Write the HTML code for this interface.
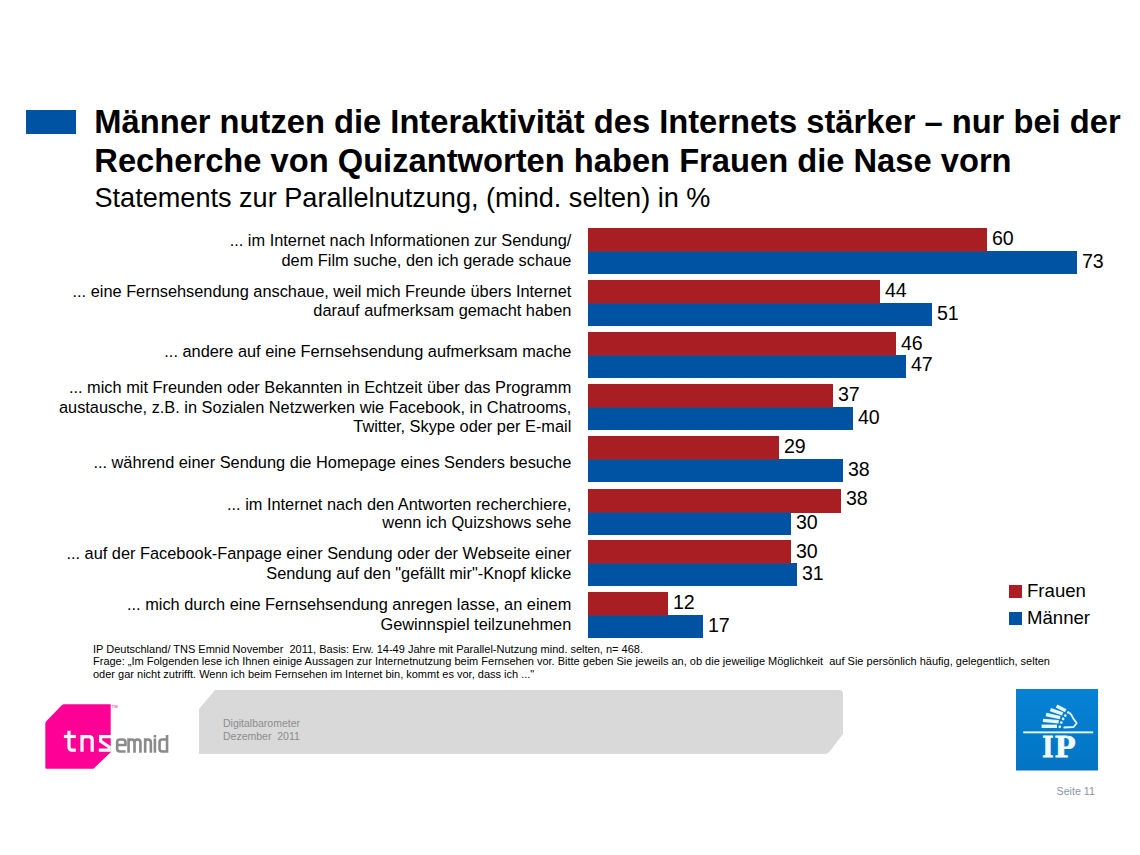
<!DOCTYPE html>
<html><head><meta charset="utf-8"><style>
html,body{margin:0;padding:0;background:#fff;}
body{width:1140px;height:855px;position:relative;overflow:hidden;font-family:"Liberation Sans",sans-serif;color:#000;}
.t{position:absolute;white-space:pre;line-height:1;}
.b{position:absolute;}
</style></head><body>
<div class="b" style="left:26px;top:110px;width:50px;height:24px;background:#0052a3"></div>
<div class="t" style="left:94.3px;top:105.92px;font-size:32.7px;font-weight:bold">Männer nutzen die Interaktivität des Internets stärker – nur bei der</div>
<div class="t" style="left:94.3px;top:144.92px;font-size:32.7px;font-weight:bold">Recherche von Quizantworten haben Frauen die Nase vorn</div>
<div class="t" style="left:94.5px;top:183.56px;font-size:27.1px;">Statements zur Parallelnutzung, (mind. selten) in %</div>
<div class="t" style="right:568.7px;top:232.16px;font-size:16.35px;text-align:right">... im Internet nach Informationen zur Sendung/</div>
<div class="t" style="right:568.7px;top:251.86px;font-size:16.35px;text-align:right">dem Film suche, den ich gerade schaue</div>
<div class="t" style="right:568.7px;top:282.66px;font-size:16.35px;text-align:right">... eine Fernsehsendung anschaue, weil mich Freunde übers Internet</div>
<div class="t" style="right:568.7px;top:302.16px;font-size:16.35px;text-align:right">darauf aufmerksam gemacht haben</div>
<div class="t" style="right:568.7px;top:342.86px;font-size:16.35px;text-align:right">... andere auf eine Fernsehsendung aufmerksam mache</div>
<div class="t" style="right:568.7px;top:379.36px;font-size:16.35px;text-align:right">... mich mit Freunden oder Bekannten in Echtzeit über das Programm</div>
<div class="t" style="right:568.7px;top:398.66px;font-size:16.35px;text-align:right">austausche, z.B. in Sozialen Netzwerken wie Facebook, in Chatrooms,</div>
<div class="t" style="right:568.7px;top:417.76px;font-size:16.35px;text-align:right">Twitter, Skype oder per E-mail</div>
<div class="t" style="right:568.7px;top:453.76px;font-size:16.35px;text-align:right">... während einer Sendung die Homepage eines Senders besuche</div>
<div class="t" style="right:568.7px;top:495.66px;font-size:16.35px;text-align:right">... im Internet nach den Antworten recherchiere,</div>
<div class="t" style="right:568.7px;top:513.66px;font-size:16.35px;text-align:right">wenn ich Quizshows sehe</div>
<div class="t" style="right:568.7px;top:545.46px;font-size:16.35px;text-align:right">... auf der Facebook-Fanpage einer Sendung oder der Webseite einer</div>
<div class="t" style="right:568.7px;top:564.66px;font-size:16.35px;text-align:right">Sendung auf den "gefällt mir"-Knopf klicke</div>
<div class="t" style="right:568.7px;top:596.16px;font-size:16.35px;text-align:right">... mich durch eine Fernsehsendung anregen lasse, an einem</div>
<div class="t" style="right:568.7px;top:615.66px;font-size:16.35px;text-align:right">Gewinnspiel teilzunehmen</div>
<div class="b" style="left:588px;top:228px;width:399px;height:23px;background:#a81e22"></div>
<div class="b" style="left:588px;top:251px;width:399px;height:1px;background:#5a3868"></div>
<div class="b" style="left:588px;top:252px;width:489px;height:22px;background:#0052a3"></div>
<div class="b" style="left:987px;top:251px;width:90px;height:1px;background:#0052a3"></div>
<div class="t" style="left:991.9px;top:229.21px;font-size:19.6px;">60</div>
<div class="t" style="left:1081.9px;top:251.91px;font-size:19.6px;">73</div>
<div class="b" style="left:588px;top:280px;width:292px;height:23px;background:#a81e22"></div>
<div class="b" style="left:588px;top:303px;width:292px;height:1px;background:#5a3868"></div>
<div class="b" style="left:588px;top:304px;width:344px;height:22px;background:#0052a3"></div>
<div class="b" style="left:880px;top:303px;width:52px;height:1px;background:#0052a3"></div>
<div class="t" style="left:884.9px;top:281.11px;font-size:19.6px;">44</div>
<div class="t" style="left:936.9px;top:303.91px;font-size:19.6px;">51</div>
<div class="b" style="left:588px;top:332px;width:308px;height:23px;background:#a81e22"></div>
<div class="b" style="left:588px;top:355px;width:308px;height:1px;background:#5a3868"></div>
<div class="b" style="left:588px;top:356px;width:318px;height:22px;background:#0052a3"></div>
<div class="b" style="left:896px;top:355px;width:10px;height:1px;background:#0052a3"></div>
<div class="t" style="left:900.9px;top:333.91px;font-size:19.6px;">46</div>
<div class="t" style="left:910.9px;top:354.81px;font-size:19.6px;">47</div>
<div class="b" style="left:588px;top:384px;width:245px;height:23px;background:#a81e22"></div>
<div class="b" style="left:588px;top:407px;width:245px;height:1px;background:#5a3868"></div>
<div class="b" style="left:588px;top:408px;width:265px;height:22px;background:#0052a3"></div>
<div class="b" style="left:833px;top:407px;width:20px;height:1px;background:#0052a3"></div>
<div class="t" style="left:837.9px;top:385.31px;font-size:19.6px;">37</div>
<div class="t" style="left:857.9px;top:408.11px;font-size:19.6px;">40</div>
<div class="b" style="left:588px;top:436px;width:191px;height:23px;background:#a81e22"></div>
<div class="b" style="left:588px;top:459px;width:191px;height:1px;background:#5a3868"></div>
<div class="b" style="left:588px;top:460px;width:255px;height:22px;background:#0052a3"></div>
<div class="b" style="left:779px;top:459px;width:64px;height:1px;background:#0052a3"></div>
<div class="t" style="left:783.9px;top:437.11px;font-size:19.6px;">29</div>
<div class="t" style="left:847.9px;top:460.31px;font-size:19.6px;">38</div>
<div class="b" style="left:588px;top:489px;width:253px;height:23px;background:#a81e22"></div>
<div class="b" style="left:588px;top:512px;width:203px;height:1px;background:#5a3868"></div>
<div class="b" style="left:588px;top:513px;width:203px;height:22px;background:#0052a3"></div>
<div class="b" style="left:791px;top:512px;width:50px;height:1px;background:#a81e22"></div>
<div class="t" style="left:845.9px;top:489.11px;font-size:19.6px;">38</div>
<div class="t" style="left:795.9px;top:513.31px;font-size:19.6px;">30</div>
<div class="b" style="left:588px;top:540px;width:203px;height:23px;background:#a81e22"></div>
<div class="b" style="left:588px;top:563px;width:203px;height:1px;background:#5a3868"></div>
<div class="b" style="left:588px;top:564px;width:209px;height:22px;background:#0052a3"></div>
<div class="b" style="left:791px;top:563px;width:6px;height:1px;background:#0052a3"></div>
<div class="t" style="left:795.9px;top:542.11px;font-size:19.6px;">30</div>
<div class="t" style="left:801.9px;top:564.31px;font-size:19.6px;">31</div>
<div class="b" style="left:588px;top:592px;width:80px;height:23px;background:#a81e22"></div>
<div class="b" style="left:588px;top:615px;width:80px;height:1px;background:#5a3868"></div>
<div class="b" style="left:588px;top:616px;width:115px;height:22px;background:#0052a3"></div>
<div class="b" style="left:668px;top:615px;width:35px;height:1px;background:#0052a3"></div>
<div class="t" style="left:672.9px;top:593.41px;font-size:19.6px;">12</div>
<div class="t" style="left:707.9px;top:615.51px;font-size:19.6px;">17</div>
<div class="b" style="left:1009px;top:585px;width:13px;height:13px;background:#ae1d23"></div>
<div class="b" style="left:1009px;top:612px;width:13px;height:13px;background:#0052a3"></div>
<div class="t" style="left:1027px;top:582.06px;font-size:18.6px;">Frauen</div>
<div class="t" style="left:1027px;top:608.86px;font-size:18.6px;">Männer</div>
<div class="t" style="left:93px;top:643.69px;font-size:11px;">IP Deutschland/ TNS Emnid November  2011, Basis: Erw. 14-49 Jahre mit Parallel-Nutzung mind. selten, n= 468.</div>
<div class="t" style="left:93px;top:656.49px;font-size:11px;">Frage: „Im Folgenden lese ich Ihnen einige Aussagen zur Internetnutzung beim Fernsehen vor. Bitte geben Sie jeweils an, ob die jeweilige Möglichkeit  auf Sie persönlich häufig, gelegentlich, selten</div>
<div class="t" style="left:93px;top:669.29px;font-size:11px;">oder gar nicht zutrifft. Wenn ich beim Fernsehen im Internet bin, kommt es vor, dass ich ..."</div>
<svg class="b" style="left:0;top:0" width="1140" height="855" viewBox="0 0 1140 855">
<path d="M215,690 L839,690 Q843,690 843,694 L843,734 L830,751 Q828,754 824,754 L199,754 L199,709 Z" fill="#d9d9d9"/>
</svg>
<div class="t" style="left:223px;top:717.81px;font-size:10.5px;color:#8c8c8c">Digitalbarometer</div>
<div class="t" style="left:223px;top:731.01px;font-size:10.5px;color:#8c8c8c">Dezember  2011</div>
<svg class="b" style="left:0;top:0" width="1140" height="855" viewBox="0 0 1140 855">
<path d="M64,704.2 L110.7,704.2 L110.7,752.2 L93.5,768.7 L46.5,768.7 Q45.3,768.7 45.3,767.5 L45.3,723.5 Q45.3,722 46.5,721 L62,705 Q63,704.2 64,704.2 Z" fill="#ff0096"/>
<g fill="none" stroke="#fff" stroke-width="3.2" stroke-linejoin="miter" stroke-linecap="butt">
<path d="M69,730.7 V747 Q69,750.2 72.2,750.2 H75.8"/>
<path d="M63.9,736.5 H75.8"/>
<path d="M82,751.8 V735.1 M82,740 Q82,736.7 85.3,736.7 H88.9 Q92.2,736.7 92.2,740 V751.8"/>
<path d="M111,736.6 H100.6 V741.2 L109.2,747 V750.2 H98.8"/>
</g>
<g fill="none" stroke="#8a8a8a" stroke-width="2.6">
<path d="M117.15,745 H125.45 V742.2 Q125.45,739.45 122.7,739.45 H119.9 Q117.15,739.45 117.15,742.2 V748.8 Q117.15,751.55 119.9,751.55 H125.6"/>
<path d="M128.55,752.7 V738.3 M128.55,742 Q128.55,739.45 131.5,739.45 Q134.5,739.45 134.5,742.4 V752.7 M134.5,742.4 Q134.5,739.45 137.5,739.45 Q140.45,739.45 140.45,742.4 V752.7"/>
<path d="M145.15,752.7 V738.3 M145.15,742.2 Q145.15,739.45 148,739.45 Q150.85,739.45 150.85,742.4 V752.7"/>
<path d="M154.9,735.1 V737.6 M154.9,738.6 V752.7"/>
<path d="M167.05,735.1 V752.7 M167.05,739.45 H162.3 Q159.55,739.45 159.55,742.2 V748.8 Q159.55,751.55 162.3,751.55 H167.05"/>
</g>
<text x="111.6" y="707.6" font-family="Liberation Sans" font-size="3.2" fill="#ff0096" textLength="6" lengthAdjust="spacingAndGlyphs">TM</text>
</svg>
<svg class="b" style="left:0;top:0" width="1140" height="855" viewBox="0 0 1140 855">
<defs><linearGradient id="ipg" x1="0" y1="0" x2="0" y2="1"><stop offset="0" stop-color="#0583d6"/><stop offset="1" stop-color="#0474c2"/></linearGradient></defs>
<rect x="1016" y="689" width="82" height="81.5" fill="url(#ipg)"/>
<rect x="1023.2" y="731.4" width="70" height="1.9" fill="#e6f6ff"/>
<g stroke="#e6f6ff" stroke-width="3.4" fill="none" stroke-linecap="butt">
<path d="M1041.6,726.3 L1057,726.3"/>
<path d="M1042.9,720.4 L1058.7,721.7"/>
<path d="M1046,714.5 L1060.2,717.6"/>
<path d="M1050.4,709.7 L1062.6,713.9"/>
<path d="M1056.5,706 L1065.7,710.7"/>
</g>
<g fill="#e6f6ff">
<circle cx="1068.3" cy="712.5" r="1.35"/><circle cx="1065.3" cy="715.6" r="1.35"/><circle cx="1063.1" cy="718.9" r="1.35"/><circle cx="1061.3" cy="722.6" r="1.35"/><circle cx="1059.8" cy="726.8" r="1.35"/>
</g>
<path d="M1063.5,727.5 L1073.6,727 L1076.7,723.2 L1073.2,718.4 L1071.4,714.9 L1069.5,713" stroke="#e6f6ff" stroke-width="1.8" fill="none" stroke-linejoin="round"/>
<g font-family="Liberation Serif" font-weight="bold" font-size="31" fill="#f2fbff" stroke="#f2fbff" stroke-width="0.8">
<text transform="translate(1042.33,756.6) scale(0.93,1)">I</text>
<text transform="translate(1055.02,756.6) scale(1.09,1)">P</text>
</g>
</svg>
<div class="t" style="left:1056.5px;top:785.64px;font-size:10.7px;color:#8a96a6">Seite 11</div>
</body></html>
